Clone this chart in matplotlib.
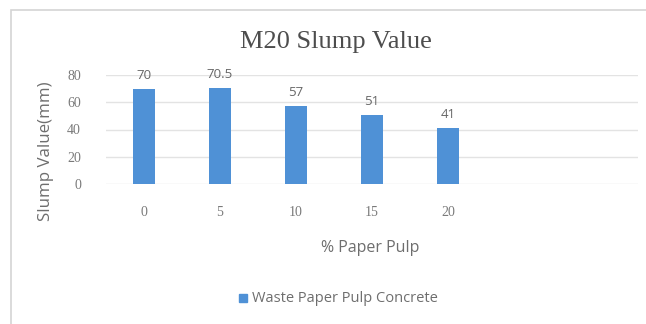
import matplotlib
matplotlib.use("Agg")
import matplotlib.pyplot as plt
from matplotlib.patches import Rectangle

categories = ["0", "5", "10", "15", "20"]
slump = [70, 70.5, 57, 51, 41]
value_labels = ["70", "70.5", "57", "51", "41"]
yticks = [0, 20, 40, 60, 80]

W, H = 646, 324
fig = plt.figure(figsize=(W / 100, H / 100), dpi=100)
fig.patch.set_facecolor("white")

# chart frame
fig.add_artist(Rectangle((11 / W, -0.1), 1.2, 1 - 10 / H + 0.1,
                         transform=fig.transFigure, fill=False,
                         edgecolor="#d4d4d4", linewidth=1.2))

left, right = 106 / W, 638 / W
bottom, top = 1 - 184 / H, 1 - 75 / H
ax = fig.add_axes([left, bottom, right - left, top - bottom])

x = list(range(len(categories)))
bar_color = "#4f91d6"
ax.bar(x, slump, width=0.29, color=bar_color, zorder=3)

ax.set_xlim(-0.5, 6.5)
ax.set_ylim(0, 80)
ax.set_yticks(yticks)
ax.set_xticks(x)
ax.set_xticklabels(categories)
ax.yaxis.grid(True, color="#e3e3e3", linewidth=1.0, zorder=0)
ax.set_axisbelow(True)
for s in ax.spines.values():
    s.set_visible(False)
ax.tick_params(axis="both", length=0, labelsize=10, labelcolor="#7a7a7a")
ax.tick_params(axis="x", pad=16)
ax.tick_params(axis="y", pad=18)
for lbl in ax.get_xticklabels() + ax.get_yticklabels():
    lbl.set_fontfamily("Liberation Serif")

for xi, v, t in zip(x, slump, value_labels):
    ax.annotate(t, (xi, v), xytext=(0, 5), textcoords="offset points",
                ha="center", va="bottom", fontsize=9.5, color="#666666",
                family="Open Sans")

fig.text(336 / W, 1 - 42 / H, "M20 Slump Value", ha="center", va="center",
         fontsize=19, color="#4d4d4d", family="Liberation Serif")
fig.text(46 / W, 1 - 151 / H, "Slump Value(mm)", ha="center", va="center",
         rotation=90, fontsize=12.2, color="#6e6e6e", family="Open Sans")
fig.text(370 / W, 1 - 248 / H, "% Paper Pulp", ha="center", va="center",
         fontsize=11.5, color="#6e6e6e", family="Open Sans")

# legend
fig.add_artist(Rectangle((239 / W, 1 - 302 / H), 8 / W, 8 / H,
                         transform=fig.transFigure, color=bar_color))
fig.text(252 / W, 1 - 298 / H, "Waste Paper Pulp Concrete", ha="left",
         va="center", fontsize=10.5, color="#6e6e6e", family="Open Sans")

fig.savefig("out.png", dpi=100, facecolor="white")
